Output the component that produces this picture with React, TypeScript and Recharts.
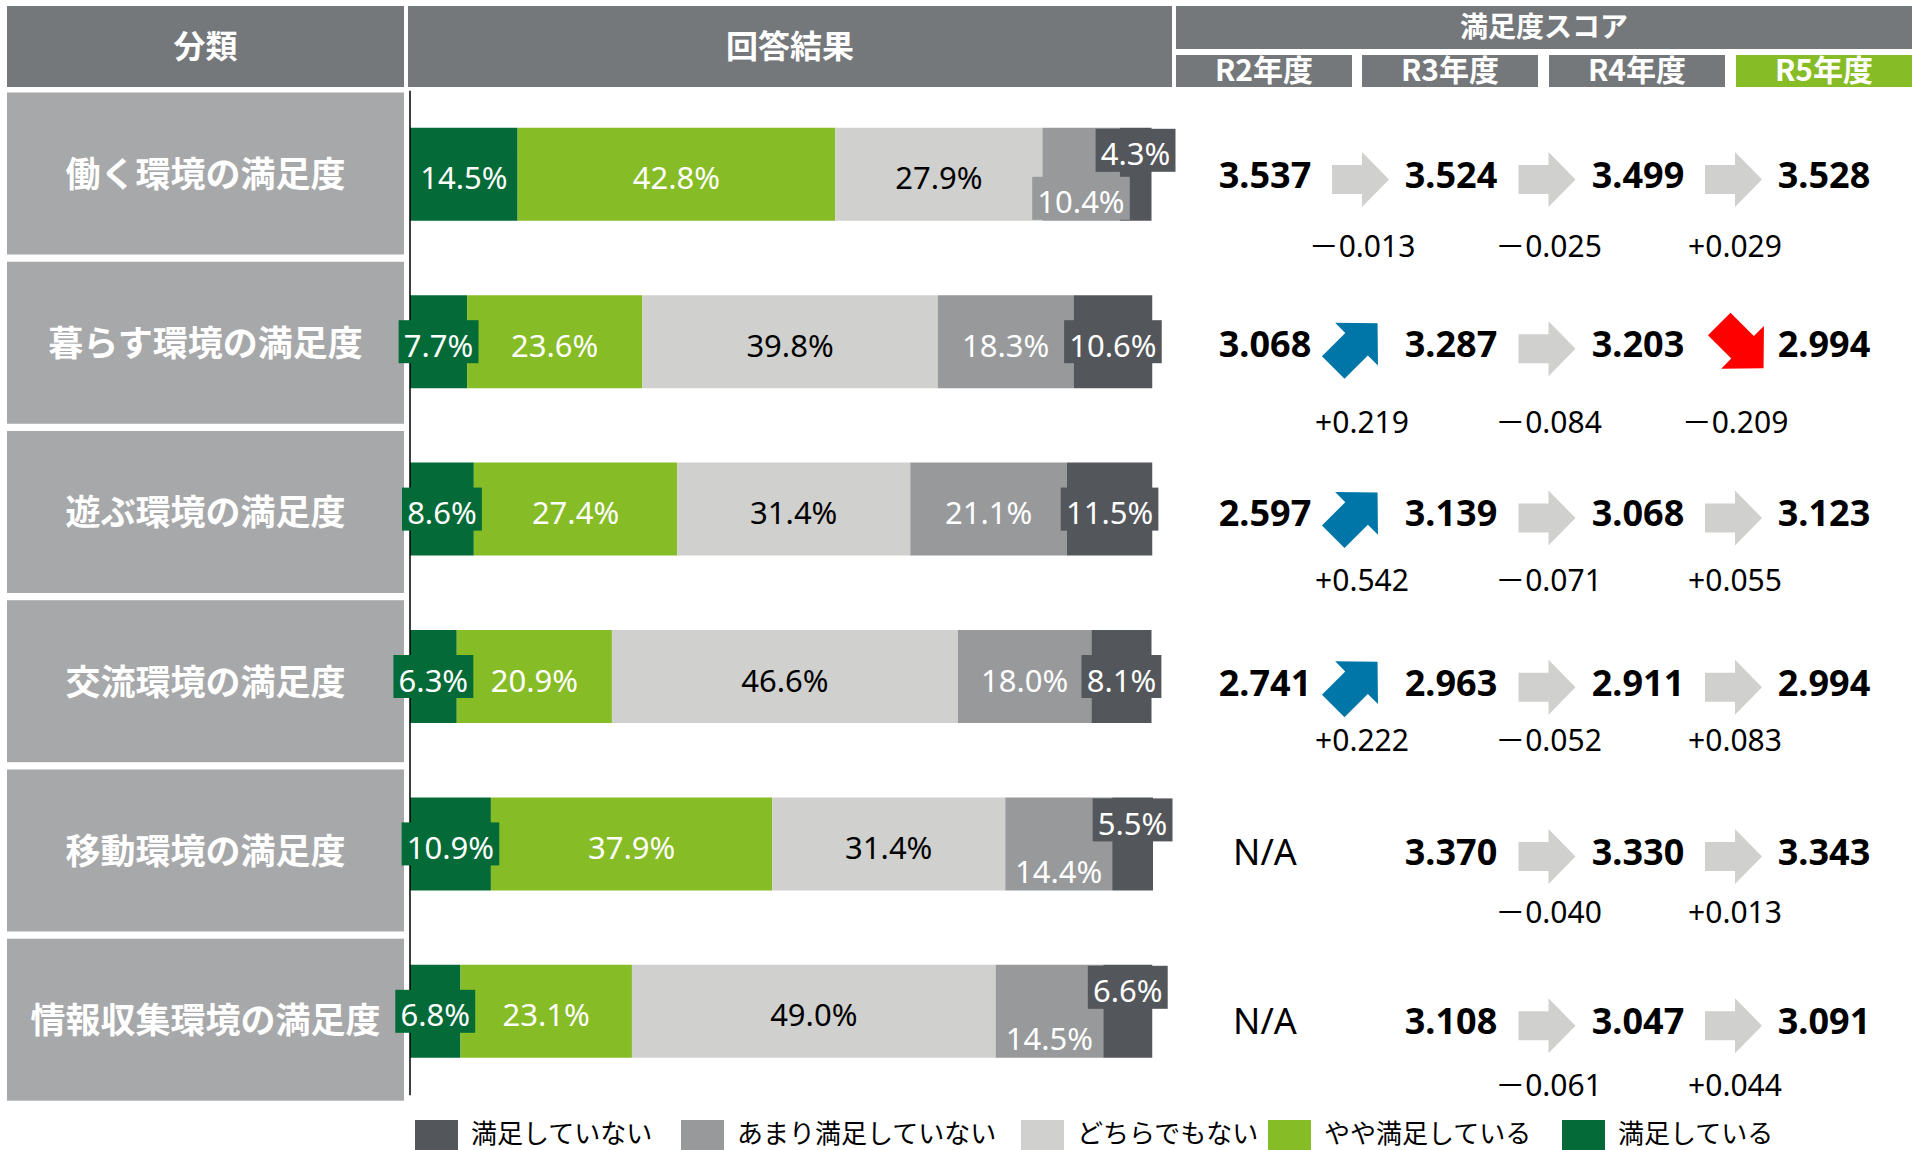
import React from 'react';
import { BarChart, Bar, XAxis, YAxis, Legend, LabelList } from 'recharts';

// survey categories (rows)
const CATEGORIES = [
  '働く環境の満足度',
  '暮らす環境の満足度',
  '遊ぶ環境の満足度',
  '交流環境の満足度',
  '移動環境の満足度',
  '情報収集環境の満足度',
];

// answer shares, % (left to right in each bar)
const SATISFIED = [14.5, 7.7, 8.6, 6.3, 10.9, 6.8];
const SOMEWHAT_SATISFIED = [42.8, 23.6, 27.4, 20.9, 37.9, 23.1];
const NEUTRAL = [27.9, 39.8, 31.4, 46.6, 31.4, 49.0];
const NOT_VERY_SATISFIED = [10.4, 18.3, 21.1, 18.0, 14.4, 14.5];
const NOT_SATISFIED = [4.3, 10.6, 11.5, 8.1, 5.5, 6.6];

// satisfaction score by fiscal year (null = N/A)
const YEARS = ['R2年度', 'R3年度', 'R4年度', 'R5年度'];
const SCORE_R2 = [3.537, 3.068, 2.597, 2.741, null, null];
const SCORE_R3 = [3.524, 3.287, 3.139, 2.963, 3.370, 3.108];
const SCORE_R4 = [3.499, 3.203, 3.068, 2.911, 3.330, 3.047];
const SCORE_R5 = [3.528, 2.994, 3.123, 2.994, 3.343, 3.091];

// year-on-year change printed under the arrows
const CHANGE_R3 = [-0.013, 0.219, 0.542, 0.222, null, null];
const CHANGE_R4 = [-0.025, -0.084, -0.071, -0.052, -0.040, -0.061];
const CHANGE_R5 = [0.029, -0.209, 0.055, 0.083, 0.013, 0.044];

const SERIES = [
  { key: 'satisfied', name: '満足している', color: '#046a38', values: SATISFIED },
  { key: 'somewhat', name: 'やや満足している', color: '#86bc25', values: SOMEWHAT_SATISFIED },
  { key: 'neutral', name: 'どちらでもない', color: '#d0d0ce', values: NEUTRAL },
  { key: 'notVery', name: 'あまり満足していない', color: '#97999b', values: NOT_VERY_SATISFIED },
  { key: 'notSat', name: '満足していない', color: '#53565a', values: NOT_SATISFIED },
];

const data = CATEGORIES.map((name, i) => {
  const row: Record<string, any> = { name };
  SERIES.forEach((s) => (row[s.key] = s.values[i]));
  return row;
});

// layout
const W = 1931;
const H = 1150;
const PLOT_LEFT = 410;
const PLOT_RIGHT = 1153;
const PLOT_TOP = 90.8;
const BAND = 167.4;
const ROW_DRIFT = 1.84; // table rows are a touch taller than bar rows
const COL_X = [1265, 1451, 1638, 1824];
const DELTA_DY = [72, 79, 68, 58, 61, 65];
const LEGEND_X = [415, 681, 1021, 1268, 1562];

const JP = "'Noto Sans CJK JP', 'Noto Sans', sans-serif";
const NUM = "'Noto Sans', 'Noto Sans CJK JP', sans-serif";
const HEAD_GRAY = '#75787b';
const BOX_GRAY = '#a7a8aa';

const fmtChange = (v: number) => (v > 0 ? '+' : '－') + Math.abs(v).toFixed(3);

function Arrow({ cx, cy, change }: { cx: number; cy: number; change: number }) {
  const pts = '-28,-14.5 2,-14.5 2,-27.5 29,0 2,27.5 2,14.5 -28,14.5';
  if (change >= 0.1) {
    return <polygon points={pts} fill="#0076a8" transform={`translate(${cx - 3},${cy + 3}) rotate(-45) scale(1.1)`} />;
  }
  if (change <= -0.1) {
    return <polygon points={pts} fill="#ff0000" transform={`translate(${cx + 10},${cy + 3}) rotate(45) scale(1.1)`} />;
  }
  return <polygon points={pts} fill="#d0d0ce" transform={`translate(${cx + 2},${cy + 6})`} />;
}

function RowTick(props: any) {
  const { y, payload } = props;
  const i = CATEGORIES.indexOf(payload.value);
  const cy = y - 1 + ROW_DRIFT * i;
  const scores = [SCORE_R2[i], SCORE_R3[i], SCORE_R4[i], SCORE_R5[i]];
  const changes = [CHANGE_R3[i], CHANGE_R4[i], CHANGE_R5[i]];
  return (
    <g>
      <rect x={7} y={cy - 81} width={397} height={162} fill={BOX_GRAY} />
      <text x={205.5} y={cy - 2} textAnchor="middle" dominantBaseline="central" fill="#fff"
        fontSize={35} fontWeight={700} fontFamily={JP}>
        {payload.value}
      </text>
      {scores.map((s, k) => (
        <text key={'s' + k} x={COL_X[k]} y={cy + 1} textAnchor="middle" dominantBaseline="central"
          fill="#000" fontSize={36} fontWeight={s == null ? 400 : 700} fontFamily={NUM}>
          {s == null ? 'N/A' : s.toFixed(3)}
        </text>
      ))}
      {changes.map((c, k) => {
        if (c == null) return null;
        const mid = (COL_X[k] + COL_X[k + 1]) / 2;
        return (
          <g key={'c' + k}>
            <Arrow cx={mid} cy={cy} change={c} />
            <text x={mid + 4} y={cy + DELTA_DY[i]} textAnchor="middle" dominantBaseline="central"
              fill="#000" fontSize={30} fontFamily={NUM}>
              {fmtChange(c)}
            </text>
          </g>
        );
      })}
    </g>
  );
}

const labelWidth = (txt: string) => {
  let w = 0;
  for (const ch of txt) w += ch === '.' ? 0.27 : ch === '%' ? 0.84 : 0.572;
  return w * 31;
};

// all five labels of a row, drawn from the last segment so they sit above every bar
function RowLabels(props: any) {
  const { x, y, width, height, index } = props;
  if (index == null) return null;
  const vals = SERIES.map((s) => s.values[index]);
  const ppu = width / vals[4];
  let left = x - vals.slice(0, 4).reduce((a, b) => a + b, 0) * ppu;
  const mid = y + height / 2;
  const split = vals[4] < 8;
  return (
    <g>
      {vals.map((v, k) => {
        const w = v * ppu;
        const cx = left + w / 2;
        left += w;
        let cy = mid;
        if (split && k === 4) cy -= 24;
        if (split && k === 3) cy += 24;
        const txt = v.toFixed(1) + '%';
        const tw = labelWidth(txt);
        return (
          <g key={k}>
            <rect x={cx - tw / 2 - 5} y={cy - 21.5} width={tw + 10} height={43} fill={SERIES[k].color} />
            <text x={cx} y={cy + 3} textAnchor="middle" dominantBaseline="central" fontSize={31}
              fill={k === 2 ? '#000' : '#fff'} fontFamily={NUM}>
              {txt}
            </text>
          </g>
        );
      })}
    </g>
  );
}

// legend runs from "not satisfied" to "satisfied"
function LegendContent() {
  const items = [...SERIES].reverse();
  return (
    <div style={{ position: 'relative', height: 0 }}>
      {items.map((it, k) => (
        <React.Fragment key={it.key}>
          <div style={{ position: 'absolute', left: LEGEND_X[k], top: 1120, width: 43, height: 43, background: it.color }} />
          <div style={{ position: 'absolute', left: LEGEND_X[k] + 56, top: 1119, fontSize: 26, lineHeight: '26px',
            whiteSpace: 'nowrap', fontFamily: JP, color: '#000' }}>
            {it.name}
          </div>
        </React.Fragment>
      ))}
    </div>
  );
}

const headStyle = (left: number, top: number, width: number, height: number, bg: string, fontSize: number): React.CSSProperties => ({
  position: 'absolute', left, top, width, height, background: bg, color: '#fff', fontFamily: JP, fontWeight: 700,
  fontSize, display: 'flex', alignItems: 'center', justifyContent: 'center', whiteSpace: 'nowrap',
  boxSizing: 'border-box', paddingBottom: 6,
});

const YEAR_X = [1176, 1362, 1549, 1736];

export default function App() {
  return (
    <div style={{ position: 'absolute', left: 0, top: 0, width: W, height: H, background: '#fff', overflow: 'hidden' }}>
      <BarChart width={W} height={H} data={data} layout="vertical" barSize={93}
        margin={{ top: PLOT_TOP, right: W - PLOT_RIGHT, bottom: H - PLOT_TOP - 6 * BAND, left: 0 }}>
        <XAxis type="number" domain={[0, 100]} hide />
        <YAxis type="category" dataKey="name" width={PLOT_LEFT} interval={0} tickLine={false}
          axisLine={{ stroke: '#000', strokeWidth: 1.5 }} tick={(p: any) => <RowTick {...p} />} />
        {SERIES.map((s, k) => (
          <Bar key={s.key} dataKey={s.key} name={s.name} stackId="a" fill={s.color} isAnimationActive={false}>
            {k === SERIES.length - 1 && <LabelList dataKey={s.key} content={(p: any) => <RowLabels {...p} />} />}
          </Bar>
        ))}
        <Legend content={() => <LegendContent />}
          wrapperStyle={{ position: 'absolute', left: 0, top: 0, width: W, height: 0 }} />
      </BarChart>
      <div style={headStyle(7, 6, 397, 81, HEAD_GRAY, 32)}>分類</div>
      <div style={headStyle(408, 6, 764, 81, HEAD_GRAY, 32)}>回答結果</div>
      <div style={headStyle(1176, 6, 736, 43, HEAD_GRAY, 28)}>満足度スコア</div>
      {YEARS.map((yr, k) => (
        <div key={yr} style={headStyle(YEAR_X[k], 55, 176, 32, k === YEARS.length - 1 ? '#86bc25' : HEAD_GRAY, 30)}>
          {yr}
        </div>
      ))}
    </div>
  );
}
